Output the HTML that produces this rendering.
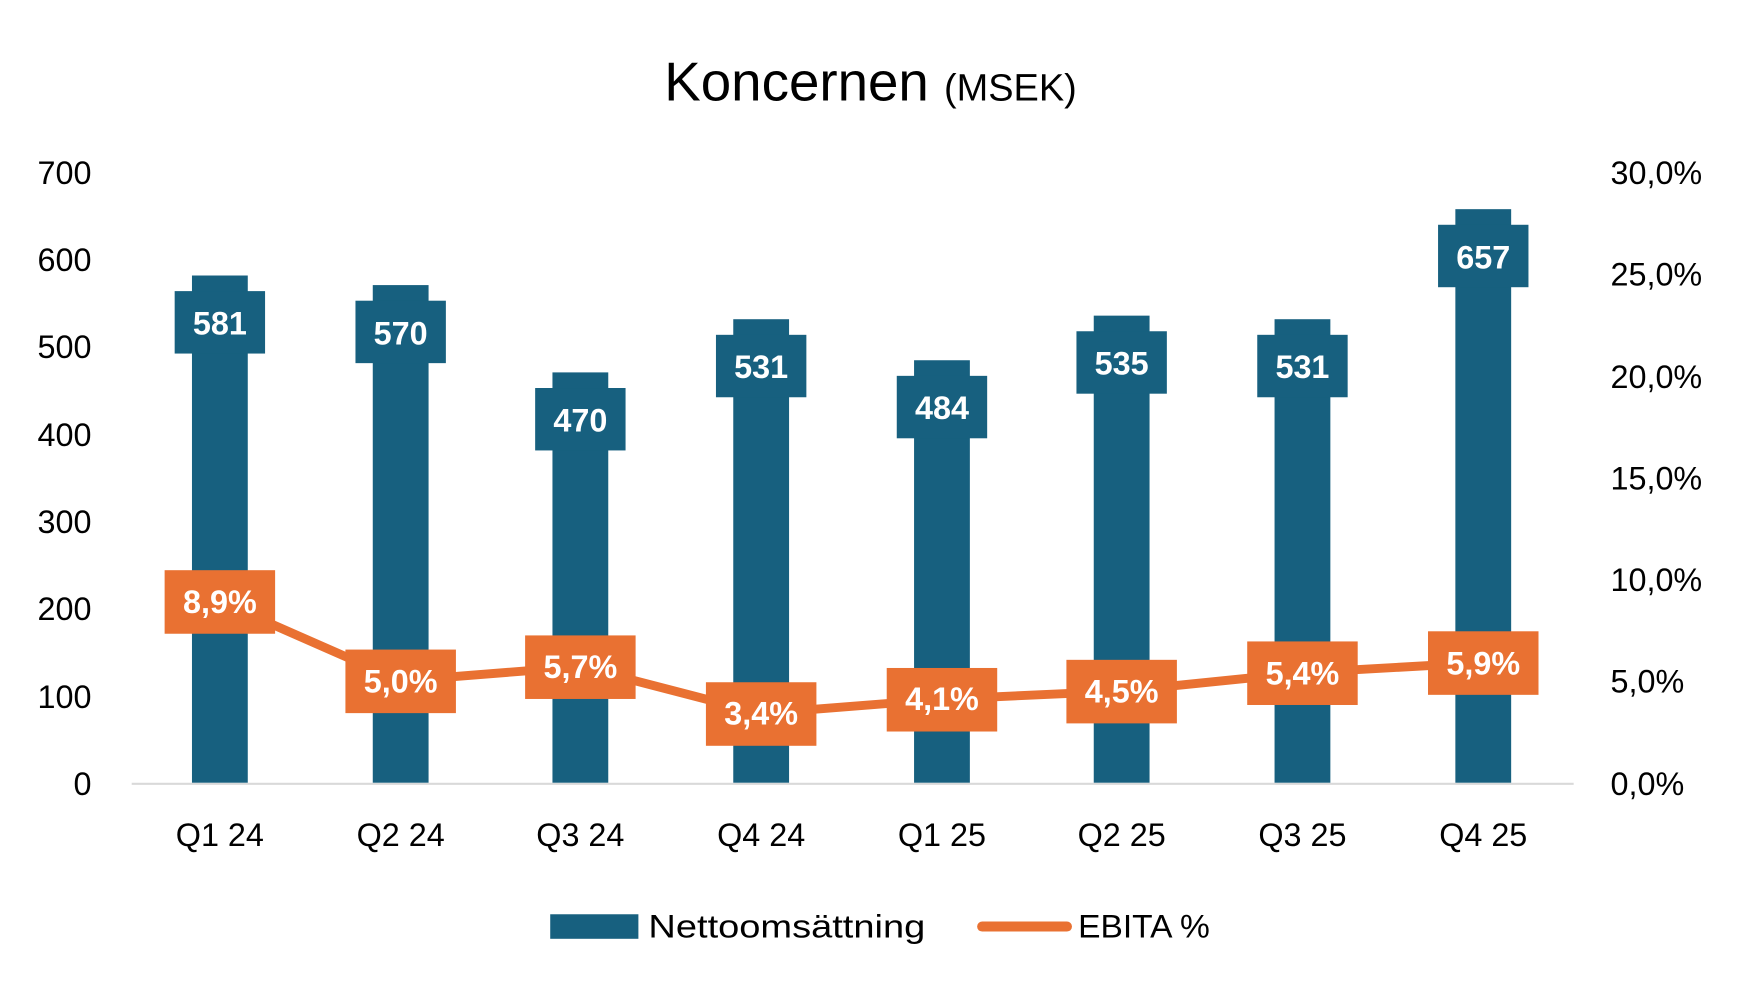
<!DOCTYPE html>
<html><head><meta charset="utf-8"><style>
html,body{margin:0;padding:0;background:#fff;}
svg{display:block;}
text{font-family:"Liberation Sans",sans-serif;}
</style></head><body>
<svg width="1750" height="999" viewBox="0 0 1568 896" preserveAspectRatio="none" xmlns="http://www.w3.org/2000/svg">
<rect width="1568" height="896" fill="#fff"/>
<text x="780" y="90" text-anchor="middle" font-size="49" fill="#000">Koncernen <tspan font-size="34">(MSEK)</tspan></text>
<g font-size="29" fill="#000" text-anchor="end">
<text x="82" y="165">700</text><text x="82" y="243">600</text><text x="82" y="321">500</text><text x="82" y="400">400</text><text x="82" y="478">300</text><text x="82" y="556">200</text><text x="82" y="635">100</text><text x="82" y="713">0</text>
</g>
<g font-size="29" fill="#000">
<text x="1443" y="165">30,0%</text><text x="1443" y="256">25,0%</text><text x="1443" y="348">20,0%</text><text x="1443" y="439">15,0%</text><text x="1443" y="530">10,0%</text><text x="1443" y="621">5,0%</text><text x="1443" y="713">0,0%</text>
</g>
<line x1="118" y1="703" x2="1410" y2="703" stroke="#d9d9d9" stroke-width="2"/>
<g fill="#17607f">
<rect x="172" y="247.1" width="50" height="454.9"/><rect x="156.5" y="261.1" width="81" height="56"/>
<rect x="334" y="255.7" width="50" height="446.3"/><rect x="318.5" y="269.7" width="81" height="56"/>
<rect x="495" y="334" width="50" height="368"/><rect x="479.5" y="348" width="81" height="56"/>
<rect x="657" y="286.3" width="50" height="415.7"/><rect x="641.5" y="300.3" width="81" height="56"/>
<rect x="819" y="323.1" width="50" height="378.9"/><rect x="803.5" y="337.1" width="81" height="56"/>
<rect x="980" y="283.1" width="50" height="418.9"/><rect x="964.5" y="297.1" width="81" height="56"/>
<rect x="1142" y="286.3" width="50" height="415.7"/><rect x="1126.5" y="300.3" width="81" height="56"/>
<rect x="1304" y="187.6" width="50" height="514.4"/><rect x="1288.5" y="201.6" width="81" height="56"/>
</g>
<g font-size="29" font-weight="bold" fill="#fff" text-anchor="middle">
<text x="197" y="300">581</text><text x="359" y="309">570</text><text x="520" y="387">470</text><text x="682" y="339">531</text><text x="844" y="376">484</text><text x="1005" y="336">535</text><text x="1167" y="339">531</text><text x="1329" y="241">657</text>
</g>
<g font-size="29" fill="#000" text-anchor="middle">
<text x="197" y="759">Q1 24</text><text x="359" y="759">Q2 24</text><text x="520" y="759">Q3 24</text><text x="682" y="759">Q4 24</text><text x="844" y="759">Q1 25</text><text x="1005" y="759">Q2 25</text><text x="1167" y="759">Q3 25</text><text x="1329" y="759">Q4 25</text>
</g>
<polyline points="197,539.4 359,610.6 520,597.9 682,639.9 844,627.1 1005,619.8 1167,603.3 1329,594.2" fill="none" stroke="#e97132" stroke-width="8"/>
<g fill="#e97132">
<rect x="147.5" y="511.4" width="99" height="57"/>
<rect x="309.5" y="582.6" width="99" height="57"/>
<rect x="470.5" y="569.9" width="99" height="57"/>
<rect x="632.5" y="611.9" width="99" height="57"/>
<rect x="794.5" y="599.1" width="99" height="57"/>
<rect x="955.5" y="591.8" width="99" height="57"/>
<rect x="1117.5" y="575.3" width="99" height="57"/>
<rect x="1279.5" y="566.2" width="99" height="57"/>
</g>
<g font-size="29" font-weight="bold" fill="#fff" text-anchor="middle">
<text x="197" y="550">8,9%</text><text x="359" y="621">5,0%</text><text x="520" y="608">5,7%</text><text x="682" y="650">3,4%</text><text x="844" y="637">4,1%</text><text x="1005" y="630">4,5%</text><text x="1167" y="614">5,4%</text><text x="1329" y="605">5,9%</text>
</g>
<rect x="493" y="820" width="79" height="22" fill="#17607f"/>
<text x="581" y="841" font-size="29" fill="#000" textLength="248" lengthAdjust="spacingAndGlyphs">Nettoomsättning</text>
<line x1="880" y1="831" x2="956" y2="831" stroke="#e97132" stroke-width="9" stroke-linecap="round"/>
<text x="966" y="841" font-size="29" fill="#000" textLength="118" lengthAdjust="spacingAndGlyphs">EBITA %</text>
</svg>
</body></html>
